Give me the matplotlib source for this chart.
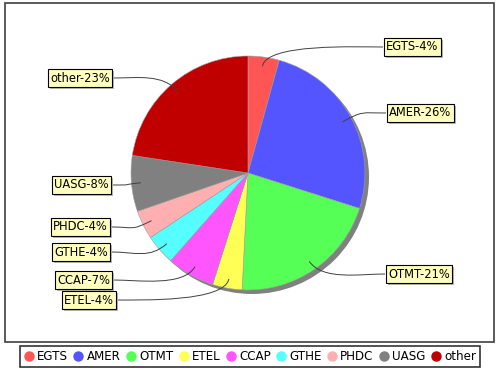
#!/usr/bin/env python3
import numpy as np
import matplotlib.pyplot as plt
from matplotlib.patches import Circle, PathPatch, Rectangle
from matplotlib.path import Path
from matplotlib.lines import Line2D

W, H = 500, 370

names = ["EGTS", "AMER", "OTMT", "ETEL", "CCAP", "GTHE", "PHDC", "UASG", "other"]
shares = [4.3, 25.6, 20.9, 4.1, 6.6, 4.2, 4.0, 7.7, 22.6]
colors = ["#FF5555", "#5555FF", "#55FF55", "#FFFF55", "#FF55FF",
          "#55FFFF", "#FFAFAF", "#808080", "#C00000"]

# label box edge facing the pie (pixels, from top-left), side of the pie
label_pos = {
    "EGTS": (383, 47, "right"),
    "AMER": (386, 113, "right"),
    "OTMT": (385, 274, "right"),
    "ETEL": (117, 300, "left"),
    "CCAP": (113, 280, "left"),
    "GTHE": (111, 252, "left"),
    "PHDC": (111, 227, "left"),
    "UASG": (112, 185, "left"),
    "other": (113, 78, "left"),
}

cx, cy, R = 248, 173, 117


def Y(y):
    return H - y


fig = plt.figure(figsize=(W / 100, H / 100), dpi=100)
ax = fig.add_axes([0, 0, 1, 1])

# pie shadow
ax.add_patch(Circle((cx + 4, Y(cy) - 4), R, fc="#808080", ec="none", zorder=0))

wedges, _ = ax.pie(shares, colors=colors, startangle=90, counterclock=False,
                   center=(cx, Y(cy)), radius=R, frame=True,
                   wedgeprops=dict(edgecolor="#A0A0A0", linewidth=0.4))
for w in wedges:
    w.set_zorder(1)

ax.set_xlim(0, W)
ax.set_ylim(0, H)
ax.set_aspect("auto")
ax.axis("off")

# plot border
ax.add_patch(Rectangle((5, Y(342)), 489, 339, fill=False, ec="#404040", lw=1.2, zorder=5))

box = dict(boxstyle="square,pad=0.2", fc="#FFFFC0", ec="black", lw=0.8)

texts = []
for w, name, v in zip(wedges, names, shares):
    lx, ly, side = label_pos[name]
    mid = np.radians((w.theta1 + w.theta2) / 2)
    ax0 = cx + 0.92 * R * np.cos(mid)
    ay0 = Y(cy) + 0.92 * R * np.sin(mid)
    ex = cx + 1.12 * R * np.cos(mid)
    ey = Y(cy) + 1.12 * R * np.sin(mid)
    txt = f"{name}-{round(v)}%"
    if side == "right":
        tx, ha, c2x = lx + 3, "left", lx - 25
    else:
        tx, ha, c2x = lx - 3, "right", lx + 25
    verts = [(ax0, ay0), (ex, ey), (c2x, Y(ly)), (lx, Y(ly))]
    codes = [Path.MOVETO, Path.CURVE4, Path.CURVE4, Path.CURVE4]
    ax.add_patch(PathPatch(Path(verts, codes), fill=False, ec="#404040", lw=0.7, zorder=3))
    t = ax.text(tx, Y(ly), txt, ha=ha, va="center", fontsize=8.3, color="black",
                bbox=box, zorder=4)
    texts.append(t)

# grey drop shadow behind each label box
fig.canvas.draw()
inv = ax.transData.inverted()
for t in texts:
    bb = t.get_bbox_patch().get_window_extent()
    (x0, y0), (x1, y1) = inv.transform([(bb.x0, bb.y0), (bb.x1, bb.y1)])
    ax.add_patch(Rectangle((x0 + 2, y0 - 2), x1 - x0, y1 - y0,
                           fc="#B8B8B8", ec="none", zorder=3.5))

handles = [Line2D([], [], ls="none", marker="o", ms=6.5, mfc=c, mec=c) for c in colors]
leg = fig.legend(handles, names, loc="center", bbox_to_anchor=(250 / W, 1 - 356.5 / H),
                 ncol=9, fontsize=8.6, frameon=True, fancybox=False, edgecolor="black",
                 handlelength=0.8, handletextpad=0.3, columnspacing=0.45,
                 borderpad=0.35, borderaxespad=0)
leg.get_frame().set_linewidth(1.2)

fig.savefig("out.png", dpi=100)
